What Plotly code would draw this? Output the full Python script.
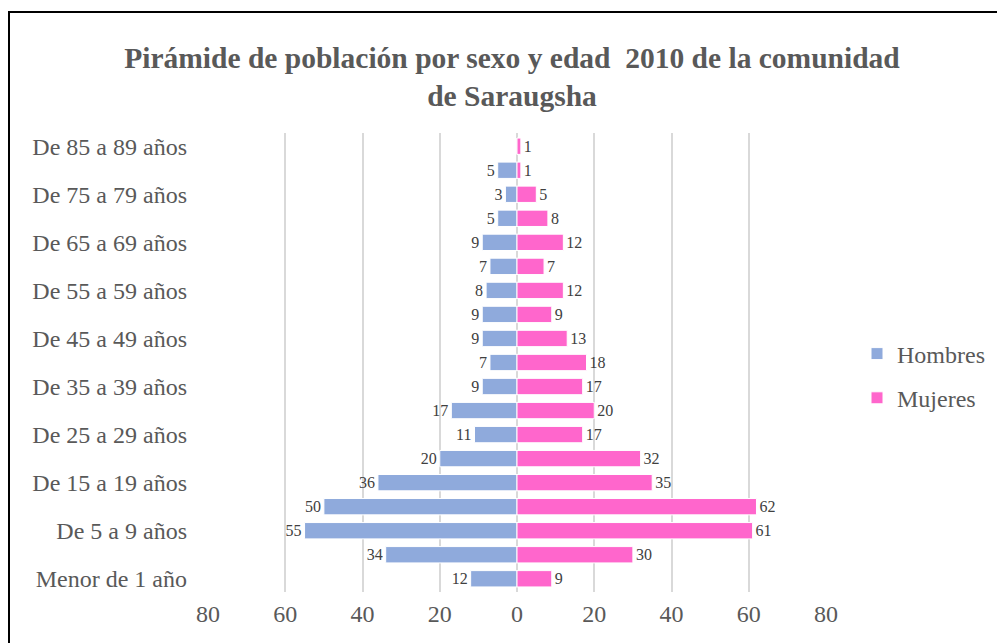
import plotly.graph_objects as go

# Age groups, bottom to top
edades = ['Menor de 1 año', 'De 1 a 4 años', 'De 5 a 9 años', 'De 10 a 14 años',
          'De 15 a 19 años', 'De 20 a 24 años', 'De 25 a 29 años', 'De 30 a 34 años',
          'De 35 a 39 años', 'De 40 a 44 años', 'De 45 a 49 años', 'De 50 a 54 años',
          'De 55 a 59 años', 'De 60 a 64 años', 'De 65 a 69 años', 'De 70 a 74 años',
          'De 75 a 79 años', 'De 80 a 84 años', 'De 85 a 89 años']
hombres = [12, 34, 55, 50, 36, 20, 11, 17, 9, 7, 9, 9, 8, 7, 9, 5, 3, 5, 0]
mujeres = [9, 30, 61, 62, 35, 32, 17, 20, 17, 18, 13, 9, 12, 7, 12, 8, 5, 1, 1]

tick_vals = [-80, -60, -40, -20, 0, 20, 40, 60, 80]
tick_text = ['80', '60', '40', '20', '0', '20', '40', '60', '80']

serif = 'Liberation Serif, Times New Roman, serif'
gray = '#595959'

fig = go.Figure()
fig.add_trace(go.Bar(
    y=edades, x=[-v for v in hombres], orientation='h', name='Hombres',
    marker=dict(color='#8FAADC', line=dict(color='white', width=1)),
    text=[str(v) if v else '' for v in hombres], textposition='outside',
    constraintext='none',
    textfont=dict(family=serif, size=16, color='#404040'), cliponaxis=False,
    legendgroup='h', hoverinfo='skip'))
fig.add_trace(go.Bar(
    y=edades, x=mujeres, orientation='h', name='Mujeres',
    marker=dict(color='#FF66CC', line=dict(color='white', width=1)),
    text=[str(v) for v in mujeres], textposition='outside',
    constraintext='none',
    textfont=dict(family=serif, size=16, color='#404040'), cliponaxis=False,
    legendgroup='m', hoverinfo='skip'))

# plot area in page pixels (page has an 8px body margin)
L, R, T, B = 200, 818, 125, 584
def px(x):
    return (x - L) / (R - L)
def py(y):
    return (B - y) / (B - T)

# outer frame
fig.add_shape(type='rect', xref='paper', yref='paper',
              x0=px(1), x1=px(1030), y0=py(680), y1=py(4),
              line=dict(color='black', width=2), layer='below')

fig.update_layout(
    width=1005, height=643,
    margin=dict(l=L, r=1005 - R, t=T, b=643 - B),
    paper_bgcolor='white', plot_bgcolor='white',
    barmode='relative', bargap=0.32,
    title=dict(text='<b>Pirámide de población por sexo y edad  2010 de la comunidad<br>de Saraugsha</b>',
               x=(512 - 8) / 1005, xanchor='center', y=1 - 60 / 643, yanchor='middle', yref='container',
               font=dict(family=serif, size=29.5, color=gray)),
    xaxis=dict(range=[-80, 80], tickvals=tick_vals, ticktext=tick_text,
               showgrid=True, gridcolor='#D9D9D9', gridwidth=2,
               zeroline=True, zerolinecolor='#D9D9D9', zerolinewidth=2,
               tickfont=dict(family=serif, size=24, color=gray), ticklabelstandoff=5),
    yaxis=dict(type='category', categoryorder='array', categoryarray=edades,
               tickvals=edades[::2], showgrid=False, ticks='',
               tickfont=dict(family=serif, size=24, color=gray), ticklabelstandoff=20,
               range=[-0.55, len(edades) - 0.45]),
    legend=dict(x=px(849), y=py(368), xanchor='left', yanchor='middle',
                font=dict(family=serif, size=24, color=gray),
                traceorder='grouped', tracegroupgap=10, bgcolor='rgba(0,0,0,0)'),
    showlegend=True,
)

fig.write_html('out.html')
